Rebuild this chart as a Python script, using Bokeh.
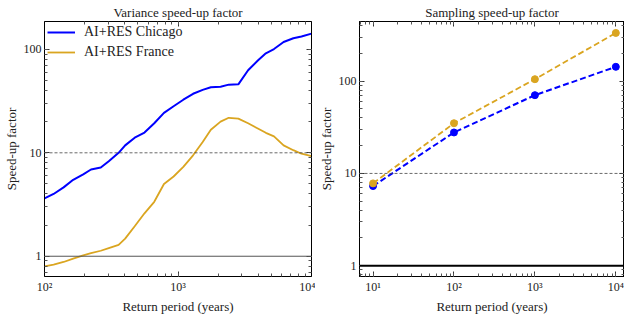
from bokeh.plotting import figure
from bokeh.layouts import row
from bokeh.models import Span, LogAxis, LogTicker, CustomJSTickFormatter, Range1d
from bokeh.embed import file_html
from bokeh.resources import INLINE

# ---------------- data ----------------
return_period = [100, 117, 139, 164, 195, 223, 264, 303, 359, 402, 474, 561, 664,
                 785, 927, 1096, 1297, 1531, 1762, 2084, 2399, 2831, 3350, 3963,
                 4550, 5236, 6180, 7311, 8414, 10000]
var_chicago = [3.62, 4.0, 4.63, 5.48, 6.2, 6.9, 7.2, 8.3, 10.0, 11.8, 14.0, 15.7, 19.3,
               24.3, 28.2, 32.6, 37.2, 40.6, 43.0, 43.6, 45.6, 45.9, 62.8, 78.1,
               91.6, 100.7, 118.0, 128.0, 133.0, 142.0]
var_france = [0.80, 0.83, 0.88, 0.95, 1.02, 1.07, 1.13, 1.20, 1.29, 1.48, 1.95, 2.6, 3.36,
              4.99, 5.9, 7.3, 9.46, 12.7, 16.7, 20.0, 21.8, 21.4, 19.3, 17.2,
              15.6, 14.4, 11.8, 10.6, 9.8, 9.3]

samp_period = [10, 100, 1000, 10000]
samp_chicago = [7.3, 27.8, 70.5, 143.0]
samp_france = [7.8, 35.0, 105.0, 333.0]

titles = ["Variance speed-up factor", "Sampling speed-up factor"]
xlabel = "Return period (years)"
ylabel = "Speed-up factor"
series_names = ["AI+RES Chicago", "AI+RES France"]

BLUE = "#0000ff"
GOLD = "#daa520"
FONT = "Liberation Serif"
H = 316

xfmt = CustomJSTickFormatter(code="""
const e = Math.round(Math.log10(tick));
const sup = {"0":"\u2070","1":"\u00b9","2":"\u00b2","3":"\u00b3","4":"\u2074","5":"\u2075"};
return "10" + String(e).split("").map(c => sup[c]).join("");
""")
yfmt = CustomJSTickFormatter(code="return tick >= 1 ? tick.toFixed(0) : tick.toString();")
blank = CustomJSTickFormatter(code="return '';")


def style_axis(ax, labels=True):
    ax.major_tick_in = 5
    ax.major_tick_out = 0
    ax.minor_tick_in = 3
    ax.minor_tick_out = 0
    ax.axis_line_color = "black"
    ax.major_tick_line_color = "#333333"
    ax.minor_tick_line_color = "#555555"
    ax.major_label_text_font = FONT
    ax.major_label_text_font_size = "12px"
    ax.major_label_text_color = "#222222"
    ax.major_label_text_line_height = 1.0
    ax.axis_label_text_font = FONT
    ax.axis_label_text_font_size = "13px"
    ax.axis_label_text_font_style = "normal"
    ax.axis_label_text_color = "#222222"
    ax.axis_label_text_line_height = 1.0
    ax.major_label_standoff = 3 if labels else 0
    ax.axis_label_standoff = 2 if labels else 0


def make_fig(title, width, xr, yr, mbl, mbr):
    p = figure(width=width, height=H, x_axis_type="log", y_axis_type="log",
               x_range=Range1d(*xr), y_range=Range1d(*yr),
               output_backend="svg", toolbar_location=None,
               min_border_left=mbl, min_border_right=mbr,
               min_border_top=0, min_border_bottom=0)
    p.title.text = title
    p.title.text_font = FONT
    p.title.text_font_size = "13px"
    p.title.text_font_style = "normal"
    p.title.text_color = "#222222"
    p.title.align = "center"
    p.title.standoff = 4
    p.grid.visible = False
    p.outline_line_color = "black"
    p.outline_line_width = 1
    p.xaxis.ticker = LogTicker(num_minor_ticks=10)
    p.yaxis.ticker = LogTicker(num_minor_ticks=10)
    p.xaxis.formatter = xfmt
    p.yaxis.formatter = yfmt
    p.xaxis.axis_label = xlabel
    p.yaxis.axis_label = ylabel
    for ax in p.xaxis + p.yaxis:
        style_axis(ax)
    top = LogAxis(ticker=LogTicker(num_minor_ticks=10), formatter=blank)
    right = LogAxis(ticker=LogTicker(num_minor_ticks=10), formatter=blank)
    style_axis(top, False)
    style_axis(right, False)
    p.add_layout(top, "above")
    p.add_layout(right, "right")
    return p


p1 = make_fig(titles[0], 315, (100, 10000), (0.637, 186), 29, 4)
p1.add_layout(Span(location=10, dimension="width", line_color="#444444",
                   line_width=0.8, line_dash="3 2"))
p1.add_layout(Span(location=1, dimension="width", line_color="#555555",
                   line_width=1))
p1.line(return_period, var_chicago, line_color=BLUE, line_width=2,
        legend_label=series_names[0])
p1.line(return_period, var_france, line_color=GOLD, line_width=1.8,
        legend_label=series_names[1])
lg = p1.legend[0]
lg.location = "top_left"
lg.border_line_color = None
lg.background_fill_alpha = 0
lg.margin = 3
lg.padding = 7
lg.glyph_width = 28
lg.glyph_height = 16
lg.label_height = 16
lg.spacing = 4
lg.label_standoff = 9
lg.label_text_font = FONT
lg.label_text_font_size = "14px"
lg.label_text_color = "#222222"

p2 = make_fig(titles[1], 309, (6.8, 12800), (0.764, 443), 42, 0)
p2.add_layout(Span(location=10, dimension="width", line_color="#444444",
                   line_width=0.8, line_dash="3 2"))
p2.add_layout(Span(location=1, dimension="width", line_color="black",
                   line_width=2))
p2.line(samp_period, samp_chicago, line_color=BLUE, line_width=2, line_dash="6 3")
p2.scatter(samp_period, samp_chicago, size=7, fill_color=BLUE, line_color=BLUE)
p2.line(samp_period, samp_france, line_color=GOLD, line_width=1.8, line_dash="6 3")
p2.scatter(samp_period, samp_france, size=7, fill_color=GOLD, line_color=GOLD)

layout = row(p1, p2)
open("out.html", "w").write(file_html(layout, INLINE))
